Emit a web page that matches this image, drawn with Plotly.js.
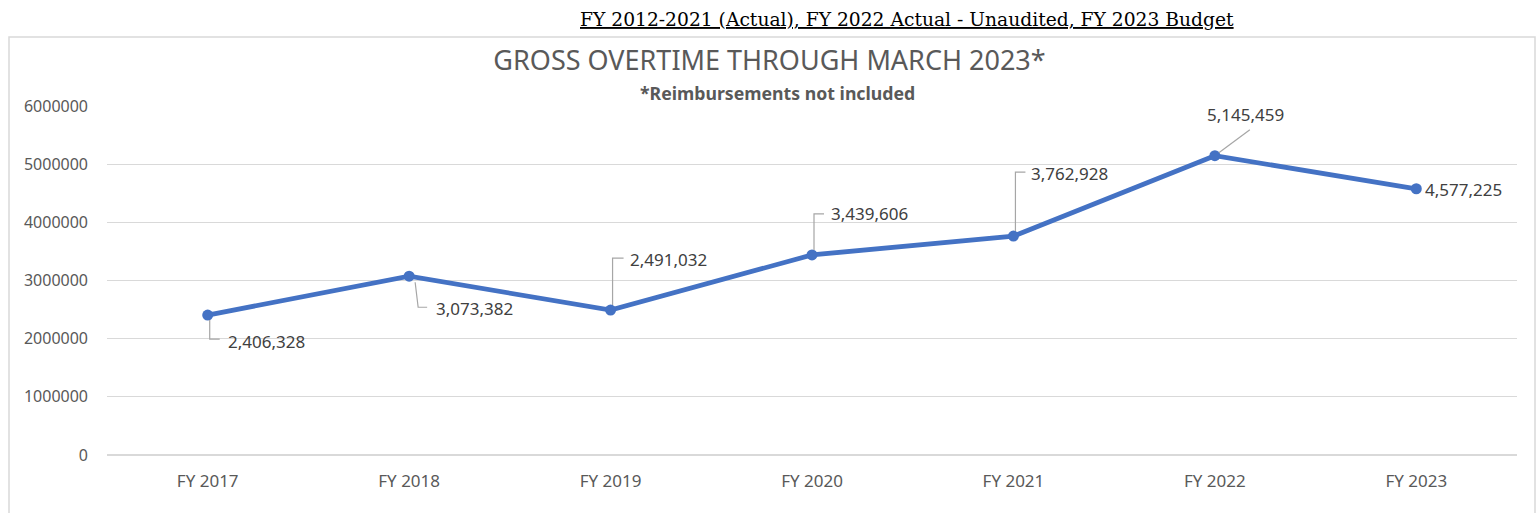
<!DOCTYPE html>
<html>
<head>
<meta charset="utf-8">
<script src="https://cdn.plot.ly/plotly-3.0.1.min.js"></script>
<style>html,body{margin:0;padding:0;background:#fff;}#chart{width:1539px;height:513px;}</style>
</head>
<body>
<div id="chart"></div>
<script>
const categories = ["FY 2017","FY 2018","FY 2019","FY 2020","FY 2021","FY 2022","FY 2023"];
const overtime = [2406328, 3073382, 2491032, 3439606, 3762928, 5145459, 4577225];
const yTicks = [0, 1000000, 2000000, 3000000, 4000000, 5000000, 6000000];

// label offsets in pixels (dx right, dy down) and leader line elbow paths
const labelOffsets = [[18,26],[25,32],[17,-51],[17,-41],[16,-63],[31,-41],[7,1]];
const leaderPaths = [
  [[2,5],[2,24],[12,24]],
  [[6,6],[9,31],[18,31]],
  [[2,-5],[2,-52],[13,-52]],
  [[2,-5],[2,-41],[12,-41]],
  [[2,-5],[2,-64],[12,-64]],
  [[4,-3],[35,-26]],
  null
];

const W = 1539, H = 513, L = 107, R = 22, T = 106, B = 58;
const pw = W - L - R, ph = H - T - B;
const px = v => (v - L) / pw;
const py = v => (H - B - v) / ph;

const annotations = [];
const shapes = [];
overtime.forEach((v, i) => {
  const [dx, dy] = labelOffsets[i];
  annotations.push({
    x: i, y: v, xref: 'x', yref: 'y',
    text: v.toLocaleString('en-US'),
    showarrow: false,
    xanchor: i === 5 ? 'center' : 'left', yanchor: 'middle',
    xshift: dx, yshift: -dy,
    font: {family: 'Noto Sans', size: 17, color: '#404040'}
  });
  const p = leaderPaths[i];
  if (p) {
    const d = p.map((pt, k) => (k === 0 ? 'M' : 'L') + pt[0] + ',' + (-pt[1])).join(' ');
    shapes.push({
      type: 'path', xref: 'x', yref: 'y',
      xsizemode: 'pixel', ysizemode: 'pixel',
      xanchor: i, yanchor: v,
      path: d,
      line: {color: '#a6a6a6', width: 1.2},
      layer: 'above'
    });
  }
});

// outer chart border
shapes.push({
  type: 'rect', xref: 'paper', yref: 'paper',
  x0: px(9), x1: px(1535), y0: py(560), y1: py(37),
  line: {color: '#d9d9d9', width: 1.5}, fillcolor: 'rgba(0,0,0,0)', layer: 'below'
});

annotations.push({
  xref: 'paper', yref: 'paper', x: px(907), y: py(19),
  text: 'FY 2012-2021 (Actual), FY 2022 Actual - Unaudited, FY 2023 Budget',
  showarrow: false, xanchor: 'center', yanchor: 'middle',
  font: {family: 'DejaVu Serif', size: 18.7, color: '#000000', lineposition: 'under'}
});
annotations.push({
  xref: 'paper', yref: 'paper', x: px(777), y: py(93),
  text: '<b>*Reimbursements not included</b>',
  showarrow: false, xanchor: 'center', yanchor: 'middle',
  font: {family: 'Noto Sans', size: 17.7, color: '#595959'}
});

const trace = {
  x: categories.map((c, i) => i),
  y: overtime,
  type: 'scatter', mode: 'lines+markers',
  line: {color: '#4472C4', width: 4.8},
  marker: {color: '#4472C4', size: 11},
  hoverinfo: 'skip'
};

const layout = {
  width: W, height: H,
  margin: {l: L, r: R, t: T, b: B},
  paper_bgcolor: '#ffffff', plot_bgcolor: '#ffffff',
  showlegend: false,
  title: {
    text: 'GROSS OVERTIME THROUGH MARCH 2023*',
    font: {family: 'Noto Sans', size: 27, color: '#595959'},
    x: 0.5, xref: 'container', xanchor: 'center',
    y: 1 - 61 / H, yref: 'container', yanchor: 'middle'
  },
  xaxis: {
    range: [-0.5, 6.5],
    tickmode: 'array', tickvals: categories.map((c, i) => i), ticktext: categories,
    showgrid: false, zeroline: false, showline: false, ticks: '',
    ticklabelstandoff: 14,
    tickfont: {family: 'Noto Sans', size: 17, color: '#595959'}
  },
  yaxis: {
    range: [0, 6000000],
    tickmode: 'array', tickvals: yTicks, ticktext: yTicks.map(String),
    showgrid: true, gridcolor: '#d9d9d9', gridwidth: 1.2,
    zeroline: true, zerolinecolor: '#d9d9d9', zerolinewidth: 1.2,
    showline: false, ticks: '',
    ticklabelstandoff: 18,
    tickfont: {family: 'Noto Sans', size: 16, color: '#595959'}
  },
  annotations: annotations,
  shapes: shapes
};

Plotly.newPlot('chart', [trace], layout, {displayModeBar: false, staticPlot: true});
</script>
</body>
</html>
